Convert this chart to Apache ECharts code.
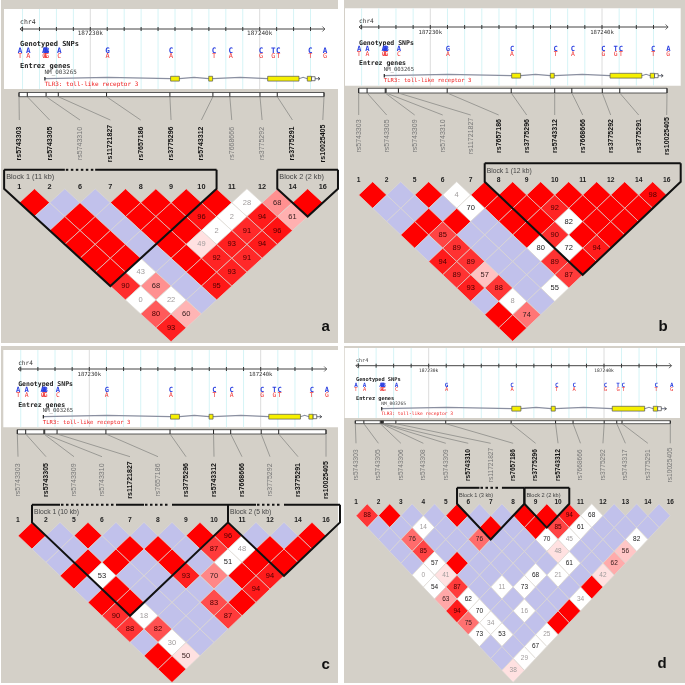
<!DOCTYPE html>
<html><head><meta charset="utf-8">
<style>html,body{margin:0;padding:0;background:#fff}#c{width:685px;height:685px;filter:blur(0.35px)}</style>
<script src="https://cdn.jsdelivr.net/npm/echarts@6/dist/echarts.min.js"></script>
</head><body><div id="c"></div>
<script>
// ---------- data ----------
const rsNames=['rs5743303','rs5743305','rs5743306','rs5743308','rs5743309','rs5743310','rs11721827','rs7657186','rs3775296','rs5743312','rs7668666','rs3775292','rs5743317','rs3775291','rs10025405'];
const rsKb=[187225.85,187226.34,187227.28,187227.35,187227.40,187227.45,187228.17,187231.02,187234.76,187237.30,187238.30,187240.08,187240.80,187241.10,187243.86];
const alleleKb=[187225.85,187226.34,187227.28,187227.35,187227.40,187227.45,187228.17,187231.02,187234.76,187237.30,187238.30,187240.08,187240.80,187241.10,187242.98,187243.86];
const alleleMajor=['A','A','A','B','A','B','A','G','C','C','C','C','T','C','C','A'];
const alleleMinor=['T','A','G','A','C','G','C','A','A','T','A','G','G','T','T','G'];
const kbTicks=[187226,187227,187228,187229,187230,187231,187232,187233,187234,187235,187236,187237,187238,187239,187240,187241,187242,187243];
const kbMajor=[187230,187240];
const geneStart=187227.32, geneEnd=187243.56;
const exons=[[187234.74,187235.26],[187236.99,187237.22],[187240.47,187242.32],[187242.81,187243.06]];
const utr=[[187243.06,187243.27]];

const markersA=[0,1,5,6,7,8,9,10,11,13,14];
const numbersA=[1,2,6,7,8,9,10,11,12,14,16];
const boldA=[0,1,6,7,8,9,13,14];
const ldA=[
['R','B','B','R','R','R','R','w28','68','R'],
['B','R','B','R','R','96','w2','94','61'],
['R','R','B','R','R','w2','91','96'],
['R','R','B','R','49','93','94'],
['R','R','B','R','92','91'],
['R','w43','B','R','93'],
['90','68','B','95'],
['w0','w22','B'],
['80','60'],
['93']];
const blocksA=[{i:0,j:6,t:'Block 1 (11 kb)',d:[[1.5,2.5]]},{i:9,j:10,t:'Block 2 (2 kb)',d:[]}];

const markersB=[0,1,4,5,6,7,8,9,10,11,13,14];
const numbersB=[1,2,5,6,7,8,9,10,11,12,14,16];
const boldB=[7,8,9,10,11,13,14];
const ldB=[
['R','B','R','w4','R','R','R','R','R','R','98'],
['B','B','B','w70','R','R','92','R','R','R'],
['B','R','R','B','R','R','w82','R','R'],
['R','85','B','B','R','90','R','R'],
['B','89','B','B','w80','w72','94'],
['94','89','B','B','89','R'],
['89','57','B','B','87'],
['93','88','B','w55'],
['B','w8','B'],
['R','74'],
['R']];
const blocksB=[{i:5,j:11,t:'Block 1 (12 kb)',d:[]}];

const markersC=[0,1,4,5,6,7,8,9,10,11,13,14];
const numbersC=[1,2,5,6,7,8,9,10,11,12,14,16];
const boldC=[1,6,8,9,10,13,14];
const ldC=[
['R','B','R','B','B','B','R','96','B','B','R'],
['B','B','B','R','R','B','87','w48','R','R'],
['B','R','R','B','R','B','w51','R','R'],
['R','w53','B','B','93','70','R','94'],
['B','R','B','B','B','B','94'],
['R','R','B','B','83','R'],
['90','w18','B','B','87'],
['88','82','B','B'],
['B','w30','B'],
['R','50'],
['R']];
const blocksC=[{i:1,j:7,t:'Block 1 (10 kb)',d:[[1.5,3.5],[4.5,5.5]]},{i:8,j:11,t:'Block 2 (5 kb)',d:[[8.5,9.5]]}];

const markersD=[0,1,2,3,4,5,6,7,8,9,10,11,12,13,14];
const numbersD=[1,2,3,4,5,6,7,8,9,10,11,12,13,14,16];
const boldD=[5,7,8,9];
const ldD=[
['88','R','B','B','R','B','B','R','R','94','w68','B','B','B'],
['B','B','w14','B','B','R','B','R','85','w61','B','B','B'],
['B','76','B','B','76','B','B','w70','w45','B','B','w82'],
['B','85','B','B','B','B','B','48','B','B','56'],
['B','w57','R','B','B','B','B','w61','B','62'],
['w0','41','B','B','B','w68','w21','B','42'],
['w54','87','B','w11','w73','B','B','R'],
['63','w62','B','B','B','B','w34'],
['94','w70','B','w16','B','R'],
['75','w34','B','B','R'],
['w73','w53','B','w25'],
['B','B','w67'],
['B','w29'],
['38']];
const blocksD=[{i:5,j:7,t:'Block 1 (3 kb)',d:[[5.5,6.5]]},{i:8,j:9,t:'Block 2 (2 kb)',d:[]}];

// ---------- layout of the four panels ----------
const panels=[
{letter:'a',lx:325.7,ly:326.7,gray:[1,0,337,343],box:[4,9,334.5,80],p230:90.3,p240:259.7,bar:[19,324],
 y:{chr:22,rul:29,kbl:33.7,gen:44,ab:50.6,ar:56.7,ent:66,nm:72.7,gene:78.7,tlr:84.7,bt:92.5,bb:96.7,le:120,rs:143.5},
 f:{m:7,s:6,r:7,c:7.5,b:7.3},x0:19.3,dx:30.35,y0:202.7,dy:13.9,top:19,
 ld:ldA,mk:markersA,num:numbersA,bold:boldA,blk:blocksA},
{letter:'b',lx:663,ly:326.7,gray:[344,0,341,343],box:[345,8.3,335.7,77.4],p230:430.3,p240:602,bar:[358.7,667],
 y:{chr:21.7,rul:27,kbl:32.7,gen:43,ab:49,ar:54,ent:63.7,nm:70,gene:75.7,tlr:81,bt:88.3,bb:93,le:115,rs:136},
 f:{m:6.5,s:5.6,r:7,c:7.5,b:6.75},x0:358.7,dx:28,y0:195,dy:13.3,top:18.4,
 ld:ldB,mk:markersB,num:numbersB,bold:boldB,blk:blocksB},
{letter:'c',lx:325.7,ly:665,gray:[1,346,337,337],box:[3.3,350,335.7,77.3],p230:89.3,p240:260.7,bar:[17.3,326],
 y:{chr:363,rul:369,kbl:374.3,gen:384,ab:389.7,ar:395,ent:405,nm:411,gene:416.7,tlr:422.3,bt:429.7,bb:434,le:456.7,rs:480},
 f:{m:6.5,s:5.6,r:7,c:7.5,b:6.75},x0:18,dx:28,y0:535.7,dy:13.35,top:17.6,
 ld:ldC,mk:markersC,num:numbersC,bold:boldC,blk:blocksC},
{letter:'d',lx:662,ly:664,gray:[344,346,341,337],box:[344.7,348,335.3,70],p230:428.7,p240:604,bar:[355.3,670.3],
 y:{chr:360.7,rul:365.7,kbl:370.7,gen:379.3,ab:385,ar:389.7,ent:398.3,nm:404,gene:408.7,tlr:413.7,bt:420.7,bb:423.7,le:443.3,rs:465},
 f:{m:5.3,s:4.6,r:6.6,c:6.5,b:5.6},x0:356,dx:22.45,y0:515.7,dy:11.9,top:16,
 ld:ldD,mk:markersD,num:numbersD,bold:boldD,blk:blocksD}];

const GRAY='#d4d0c8', BLUE='#c1c1eb', MONO='"DejaVu Sans Mono"', SANS='"Liberation Sans"';
const cellStyle=t=>{
  if(t==='R')return{fill:'#ff0000',txt:''};
  if(t==='B')return{fill:BLUE,txt:''};
  const white=t[0]==='w', v=+(white?t.slice(1):t);
  const g=Math.min(225,Math.round(4.5*(100-v)));
  return{fill:white?'#ffffff':`rgb(255,${g},${g})`,txt:String(v),col:v<50?'#a09c9c':(white?'#222':(v>=80?'#4a0000':'#3a2020'))};
};
const line=(x1,y1,x2,y2,stroke,w)=>({type:'line',shape:{x1,y1,x2,y2},style:{stroke,lineWidth:w||1}});
const text=(x,y,s,fill,font,align,rot)=>({type:'text',x,y,rotation:rot||0,style:{text:s,fill,font,align:align||'center',verticalAlign:'middle'}});

const grid=[],xAxis=[],yAxis=[],series=[],graphic=[];
function addGrid(g,xMin,xMax,yMin,yMax){
  grid.push(Object.assign({containLabel:false,show:false,outerBoundsMode:'none'},g));
  xAxis.push({type:'value',show:false,min:xMin,max:xMax,gridIndex:grid.length-1});
  yAxis.push({type:'value',show:false,min:yMin,max:yMax,inverse:true,gridIndex:grid.length-1});
  return grid.length-1;
}
function custom(gi,items,draw){
  series.push({type:'custom',coordinateSystem:'cartesian2d',xAxisIndex:gi,yAxisIndex:gi,silent:true,animation:false,
    data:items.map(d=>[d.x||0,d.y||0]),encode:{x:0,y:1},renderItem:(p,api)=>draw(items[p.dataIndex],api)});
}

panels.forEach(P=>{
  const Y=P.y,F=P.f,n=P.mk.length;
  graphic.push({type:'rect',z:-20,silent:true,shape:{x:P.gray[0],y:P.gray[1],width:P.gray[2],height:P.gray[3]},style:{fill:GRAY}});
  graphic.push({type:'rect',z:-19,silent:true,shape:{x:P.box[0],y:P.box[1],width:P.box[2],height:P.box[3]},style:{fill:'#fff'}});
  graphic.push({type:'text',z:50,silent:true,x:P.lx,y:P.ly,style:{text:P.letter,font:'bold 15px '+SANS,fill:'#111',align:'center',verticalAlign:'middle'}});

  // genome track: x in kb, y in page pixels
  const ppk=(P.p240-P.p230)/10;
  const gT=addGrid({left:P.p230-5*ppk,width:19*ppk,top:0,height:685},187225,187244,0,685);
  const top=P.box[1],bot=P.box[1]+P.box[3];
  custom(gT,kbTicks.map(k=>({x:k,y:Y.rul})),(d,api)=>{
    const [x]=api.coord([d.x,d.y]),maj=kbMajor.includes(d.x);
    return{type:'group',children:[line(x,top,x,bot,maj?'#dcdcdc':'#d6f4f6',1),line(x,Y.rul-2,x,Y.rul+2,'#333',1)].concat(
      maj?[text(x,Y.kbl,(d.x)+'k','#333',F.s+'px '+MONO)]:[])};
  });
  custom(gT,[{x:187225.85,y:Y.rul}],(d,api)=>{
    const a=api.coord([187225.85,Y.rul]),b=api.coord([187243.85,Y.rul]);
    const L=a[0],R=b[0],y=a[1];
    return{type:'group',children:[line(L,y,R,y,'#444',1),line(L,y,L+2.5,y-2.5,'#444',.8),line(L,y,L+2.5,y+2.5,'#444',.8),line(R,y,R-2.5,y-2.5,'#444',.8),line(R,y,R-2.5,y+2.5,'#444',.8),
      text(L,Y.chr,'chr4','#333',F.s+.5+'px '+MONO,'left'),
      text(L,Y.gen,'Genotyped SNPs','#222','bold '+F.m+'px '+MONO,'left'),
      text(L,Y.ent,'Entrez genes','#222','bold '+F.m+'px '+MONO,'left')]};
  });
  custom(gT,alleleKb.map((k,i)=>({x:k,y:Y.ab,i})),(d,api)=>{
    const [x]=api.coord([d.x,d.y]);
    return{type:'group',children:[text(x,Y.ab,alleleMajor[d.i],'#2a3fe0','bold '+(F.m+.6)+'px '+MONO),text(x,Y.ar,alleleMinor[d.i],'#f03a3a',F.s+.8+'px '+MONO)]};
  });
  custom(gT,[{x:geneStart,y:Y.gene}],(d,api)=>{
    const X=k=>api.coord([k,Y.gene])[0],y=Y.gene,ch=[];
    const pts=[[X(geneStart),y]];
    let prev=geneStart;
    exons.forEach(e=>{pts.push([X((prev+e[0])/2),y-1.4],[X(e[0]),y]);pts.push([X(e[1]),y]);prev=e[1];});
    pts.push([X(geneEnd),y]);
    ch.push({type:'polyline',shape:{points:pts},style:{stroke:'#8a8fa0',lineWidth:1.2,fill:null}});
    ch.push(line(X(geneStart),y-1.8,X(geneStart),y+1.8,'#222',1.2));
    exons.forEach(e=>ch.push({type:'rect',shape:{x:X(e[0]),y:y-2.4,width:X(e[1])-X(e[0]),height:4.8},style:{fill:'#f6f000',stroke:'#555',lineWidth:.7}}));
    utr.forEach(e=>ch.push({type:'rect',shape:{x:X(e[0]),y:y-2,width:X(e[1])-X(e[0]),height:4},style:{fill:'#fff',stroke:'#444',lineWidth:.7}}));
    ch.push(line(X(geneEnd),y,X(geneEnd)-2,y-1.5,'#333',.8),line(X(geneEnd),y,X(geneEnd)-2,y+1.5,'#333',.8));
    ch.push(text(X(geneStart)-.5,Y.nm,'NM_003265','#444',F.s+'px '+MONO,'left'));
    ch.push(text(X(geneStart)-.5,Y.tlr,'TLR3: toll-like receptor 3','#f02020',F.s+'px '+MONO,'left'));
    return{type:'group',children:ch};
  });

  // position bar, connectors and rs labels: x in kb along the bar
  const gB=addGrid({left:P.bar[0],width:P.bar[1]-P.bar[0],top:0,height:685},rsKb[0],rsKb[14],0,685);
  custom(gB,[{x:rsKb[0],y:Y.bt}],(d,api)=>{
    const a=api.coord([rsKb[0],Y.bt]),b=api.coord([rsKb[14],Y.bb]);
    return{type:'rect',shape:{x:a[0],y:a[1],width:b[0]-a[0],height:b[1]-a[1]},style:{fill:'#fff',stroke:'#333',lineWidth:.8}};
  });
  custom(gB,P.mk.map((m,idx)=>({x:rsKb[m],y:Y.bb,m,idx})),(d,api)=>{
    const [x]=api.coord([d.x,d.y]),lx=P.x0+P.dx*d.idx,b=P.bold.includes(d.m);
    return{type:'group',children:[line(x,Y.bt,x,Y.bb,'#222',1),line(x,Y.bb,lx,Y.le,'#8c8c88',.8),
      text(lx,Y.rs,rsNames[d.m],b?'#111':'#777',(b?'bold ':'')+F.r+'px '+SANS,'center',Math.PI/2)]};
  });

  // LD triangle: x in marker index, y in row index
  const gL=addGrid({left:P.x0-P.dx,width:(n+1)*P.dx,top:P.y0-3*P.dy,height:(n+3)*P.dy},-1,n,-3,n);
  const cells=[];
  P.ld.forEach((row,k)=>row.forEach((t,i)=>cells.push({x:i+(k+1)/2,y:k,t})));
  custom(gL,cells,(d,api)=>{
    const c=cellStyle(d.t),C=(x,y)=>api.coord([x,y]);
    const ch=[{type:'polygon',shape:{points:[C(d.x,d.y-1),C(d.x+.5,d.y),C(d.x,d.y+1),C(d.x-.5,d.y)]},style:{fill:c.fill,stroke:'#dcd8d2',lineWidth:.7}}];
    if(c.txt){const p=C(d.x,d.y);ch.push(text(p[0],p[1],c.txt,c.col,F.c+'px '+SANS));}
    return{type:'group',children:ch};
  });
  custom(gL,P.num.map((v,i)=>({x:i,y:-1,v})),(d,api)=>{
    const p=api.coord([d.x,d.y]);
    return text(p[0],p[1]-2,String(d.v),'#222','bold '+Math.max(F.b,6.5)+'px '+SANS);
  });
  custom(gL,P.blk.map(b=>({x:(b.i+b.j)/2,y:b.j-b.i,b})),(d,api)=>{
    const b=d.b,l=b.i-.5,r=b.j+.5;
    const L=api.coord([l,-1]),R=api.coord([r,-1]),A=api.coord([d.x,d.y]);
    const ty=L[1]-P.top,ch=[];
    ch.push({type:'polyline',shape:{points:[[L[0],ty],L,A,R,[R[0],ty]]},style:{stroke:'#111',lineWidth:2,fill:null}});
    let cur=l;
    const X=v=>api.coord([v,-1])[0];
    b.d.concat([[r,r]]).forEach(seg=>{
      ch.push(line(X(cur),ty,X(seg[0]),ty,'#111',2));
      for(let s=X(seg[0])+1;s<X(seg[1])-2;s+=5){ch.push(line(s,ty,s+2.5,ty,'#111',2));}
      cur=seg[1];
    });
    ch.push(text(L[0]+2,ty+7.5,b.t,'#444',F.b+'px '+SANS,'left'));
    return{type:'group',children:ch};
  });
});

const chart=echarts.init(document.getElementById('c'),null,{renderer:'canvas',width:685,height:685});
chart.setOption({backgroundColor:'#fff',animation:false,tooltip:{show:false},graphic:{elements:graphic},grid,xAxis,yAxis,series});
</script></body></html>
